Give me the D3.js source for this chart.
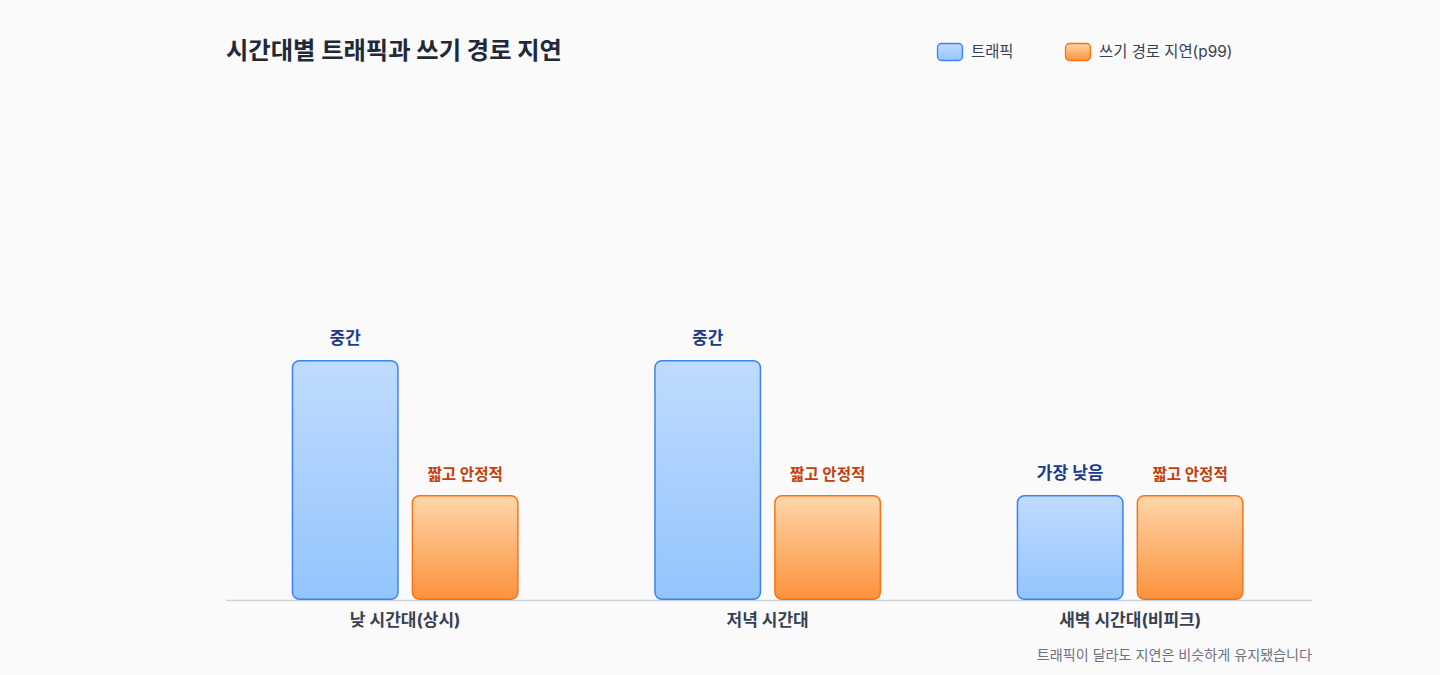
<!DOCTYPE html>
<html><head><meta charset="utf-8">
<script src="https://cdn.jsdelivr.net/npm/d3@7"></script>
<style>
html,body{margin:0;padding:0;background:#fafafa;}
svg{display:block;font-family:"Inter","Noto Sans CJK KR","Noto Sans",sans-serif;}
</style></head>
<body>
<svg id="c" width="1440" height="675"></svg>
<script>
const title = "시간대별 트래픽과 쓰기 경로 지연";
const categories = ["낮 시간대(상시)", "저녁 시간대", "새벽 시간대(비피크)"];
const seriesNames = ["트래픽", "쓰기 경로 지연(p99)"];
const trafficValues = [48, 48, 21];
const latencyValues = [21, 21, 21];
const trafficLabels = ["중간", "중간", "가장 낮음"];
const latencyLabels = ["짧고 안정적", "짧고 안정적", "짧고 안정적"];
const footnote = "트래픽이 달라도 지연은 비슷하게 유지됐습니다";

const svg = d3.select("#c");
const W = 1440, H = 675;
const m = {left:226, right:128, top:100, bottom:75};
const x0 = d3.scaleBand().domain(categories).range([m.left, W - m.right])
  .paddingInner(0.374).paddingOuter(0.185).align(0.49);
const x1 = d3.scaleBand().domain(["t","l"]).range([0, x0.bandwidth()]).paddingInner(0.108);
const y = d3.scaleLinear().domain([0,100]).range([H - m.bottom, m.top]);

const defs = svg.append("defs");
const gb = defs.append("linearGradient").attr("id","gb").attr("x1",0).attr("y1",0).attr("x2",0).attr("y2",1);
gb.append("stop").attr("offset","0%").attr("stop-color","#bfdbfe");
gb.append("stop").attr("offset","100%").attr("stop-color","#93c5fd");
const go = defs.append("linearGradient").attr("id","go").attr("x1",0).attr("y1",0).attr("x2",0).attr("y2",1);
go.append("stop").attr("offset","0%").attr("stop-color","#fed7aa");
go.append("stop").attr("offset","100%").attr("stop-color","#fb923c");

svg.append("text").attr("x", m.left).attr("y", 59).attr("font-size", 24.3).attr("font-weight", 700)
  .attr("fill", "#1f2937").text(title);

// legend
const legend = [{name:seriesNames[0], fill:"url(#gb)", stroke:"#3b82f6", x:937},
                {name:seriesNames[1], fill:"url(#go)", stroke:"#f97316", x:1065}];
legend.forEach(l => {
  svg.append("rect").attr("x", l.x+0.5).attr("y", 43.5).attr("width", 25).attr("height", 17).attr("rx", 4)
    .attr("fill", l.fill).attr("stroke", l.stroke).attr("stroke-width", 1.3);
  svg.append("text").attr("x", l.x + 34).attr("y", 57).attr("font-size", 15.4).attr("fill", "#374151").text(l.name);
});

// axis line
const yBase = y(0);
svg.append("line").attr("x1", m.left).attr("x2", W - m.right).attr("y1", yBase + 0.5).attr("y2", yBase + 0.5)
  .attr("stroke", "#cbd5e1").attr("stroke-width", 1.5);

const data = categories.map((c,i) => ({c, t:trafficValues[i], l:latencyValues[i], tl:trafficLabels[i], ll:latencyLabels[i]}));
const g = svg.selectAll("g.grp").data(data).enter().append("g").attr("transform", d => `translate(${x0(d.c)},0)`);

function bar(sel, key, valKey, fill, stroke) {
  sel.append("rect")
    .attr("x", x1(key) + 0.75).attr("width", x1.bandwidth() - 1.5)
    .attr("y", d => y(d[valKey]) + 0.75).attr("height", d => yBase - y(d[valKey]) - 1.5)
    .attr("rx", 7).attr("fill", fill).attr("stroke", stroke).attr("stroke-width", 1.5);
}
bar(g, "t", "t", "url(#gb)", "#3b82f6");
bar(g, "l", "l", "url(#go)", "#f97316");

g.append("text").attr("x", x1("t") + x1.bandwidth()/2).attr("y", d => y(d.t) - 16)
  .attr("text-anchor","middle").attr("font-size", 17).attr("font-weight", 700).attr("fill", "#1e3a8a").text(d => d.tl);
g.append("text").attr("x", x1("l") + x1.bandwidth()/2).attr("y", d => y(d.l) - 15)
  .attr("text-anchor","middle").attr("font-size", 15.6).attr("font-weight", 700).attr("fill", "#c2410c").text(d => d.ll);

// x labels
svg.selectAll("text.xl").data(categories).enter().append("text")
  .attr("x", d => x0(d) + x0.bandwidth()/2).attr("y", yBase + 26).attr("text-anchor","middle")
  .attr("font-size", 17).attr("font-weight", 700).attr("fill", "#374151").text(d => d);

svg.append("text").attr("x", W - m.right).attr("y", 660).attr("text-anchor","end")
  .attr("font-size", 14.1).attr("fill", "#6b7280").text(footnote);
</script>
</body></html>
